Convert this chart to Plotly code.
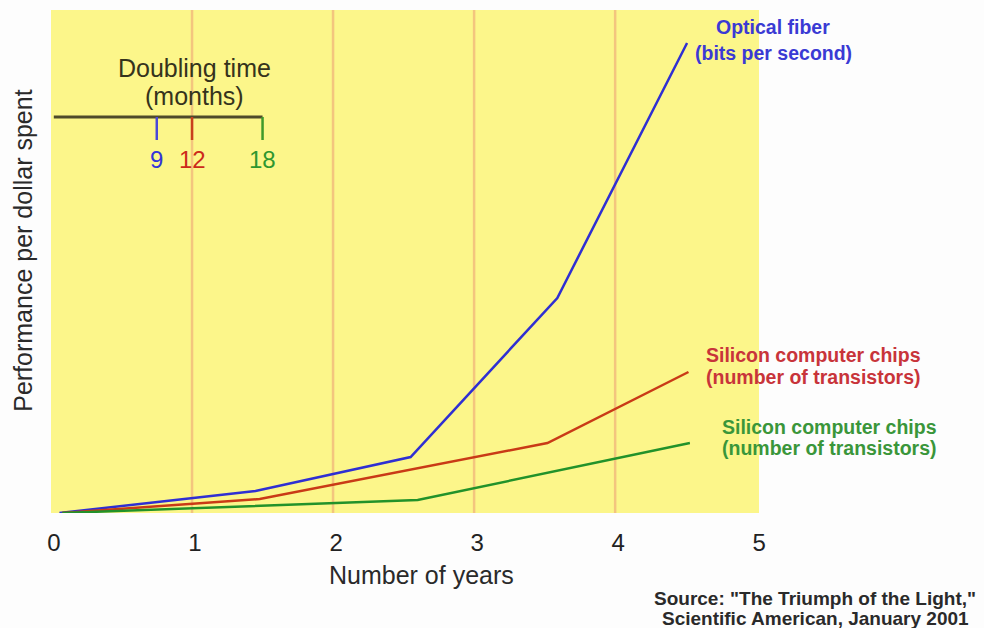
import plotly.graph_objects as go

# Growth curves: years elapsed vs. performance per dollar (relative units)
fiber_years = [0.06, 1.45, 2.55, 3.59, 4.51]
fiber_perf = [0, 22, 56, 215, 470]

chips_red_years = [0.08, 1.48, 3.52, 4.52]
chips_red_perf = [0, 14, 70, 141]

chips_green_years = [0.08, 2.6, 4.53]
chips_green_perf = [0, 13, 70]

# Doubling-time key (months)
doubling_months = [9, 12, 18]
doubling_colors = ["#4848d8", "#c8401c", "#3f9a2a"]
doubling_text_colors = ["#3434d8", "#cc2a1a", "#2f962f"]

year_ticks = [0, 1, 2, 3, 4, 5]
grid_years = [1, 2, 3, 4]

X_MAX = 5.02
Y_MAX = 503

FONT = "Liberation Sans, Arial, sans-serif"
BLUE = "#2f2fd2"
RED = "#c93a16"
GREEN = "#22922a"

fig = go.Figure()

fig.add_trace(go.Scatter(x=fiber_years, y=fiber_perf, mode="lines",
                         line=dict(color=BLUE, width=2.5), showlegend=False))
fig.add_trace(go.Scatter(x=chips_red_years, y=chips_red_perf, mode="lines",
                         line=dict(color=RED, width=2.5), showlegend=False))
fig.add_trace(go.Scatter(x=chips_green_years, y=chips_green_perf, mode="lines",
                         line=dict(color=GREEN, width=2.5), showlegend=False))

shapes = []
# vertical year gridlines
for gx in grid_years:
    shapes.append(dict(type="line", xref="x", yref="paper", x0=gx, x1=gx, y0=0, y1=1,
                       line=dict(color="#f3c57e", width=2.5), layer="below"))

# doubling-time key: baseline and drop ticks at months/12 years
key_y = 396
key_tick_bottom = 373
shapes.append(dict(type="line", xref="x", yref="y", x0=0.02, x1=max(doubling_months) / 12,
                   y0=key_y, y1=key_y, line=dict(color="#4e4a2a", width=3)))
for m, c in zip(doubling_months, doubling_colors):
    shapes.append(dict(type="line", xref="x", yref="y", x0=m / 12, x1=m / 12,
                       y0=key_y, y1=key_tick_bottom, line=dict(color=c, width=2.5)))

annotations = []
for m, c in zip(doubling_months, doubling_text_colors):
    annotations.append(dict(x=m / 12, y=354, xref="x", yref="y", text=str(m),
                            showarrow=False, font=dict(family=FONT, size=24, color=c)))

annotations.append(dict(x=1.02, y=445, xref="x", yref="y", text="Doubling time",
                        showarrow=False, font=dict(family=FONT, size=25, color="#35331c")))
annotations.append(dict(x=1.02, y=417, xref="x", yref="y", text="(months)",
                        showarrow=False, font=dict(family=FONT, size=25, color="#35331c")))


def paper_label(x, y, text, color, anchor, size=19.5, bold=True, angle=0):
    """Place text in paper units given a position in data units (may lie outside the axes)."""
    font = dict(family=FONT, size=size, color=color)
    if bold:
        font["weight"] = "bold"
    annotations.append(dict(x=x / X_MAX, y=y / Y_MAX, xref="paper", yref="paper",
                            text=text, showarrow=False, xanchor=anchor, yanchor="middle",
                            textangle=angle, font=font))


# series labels
paper_label(5.12, 486, "Optical fiber", "#3a3ad4", "center")
paper_label(5.12, 460, "(bits per second)", "#3a3ad4", "center")
paper_label(4.63, 158, "Silicon computer chips", "#c8343a", "left")
paper_label(4.63, 136, "(number of transistors)", "#c8343a", "left")
paper_label(4.74, 86, "Silicon computer chips", "#3a963a", "left")
paper_label(4.74, 65, "(number of transistors)", "#3a963a", "left")

# axis titles
paper_label(2.63, -62, "Number of years", "#2a2a2a", "center", size=25, bold=False)
paper_label(-0.2, 262, "Performance per dollar spent", "#2a2a2a", "center",
            size=25, bold=False, angle=-90)

# source note
paper_label(5.42, -85, "Source: \"The Triumph of the Light,\"", "#2a2a2a", "center", size=19)
paper_label(5.42, -105, "Scientific American, January 2001", "#2a2a2a", "center", size=19)

fig.update_layout(
    width=984, height=628,
    margin=dict(l=51, r=225, t=10, b=115),
    paper_bgcolor="#fdfdfd",
    plot_bgcolor="#fcf68a",
    shapes=shapes,
    annotations=annotations,
    xaxis=dict(range=[0, X_MAX], tickvals=year_ticks, ticktext=[str(t) for t in year_ticks],
               showgrid=False, zeroline=False, showline=False, ticks="",
               tickfont=dict(family=FONT, size=24, color="#222222"),
               ticklabelshift=3, ticklabelstandoff=13),
    yaxis=dict(range=[0, Y_MAX], showticklabels=False, showgrid=False, zeroline=False,
               showline=False, ticks=""),
)

fig.write_html("out.html")
